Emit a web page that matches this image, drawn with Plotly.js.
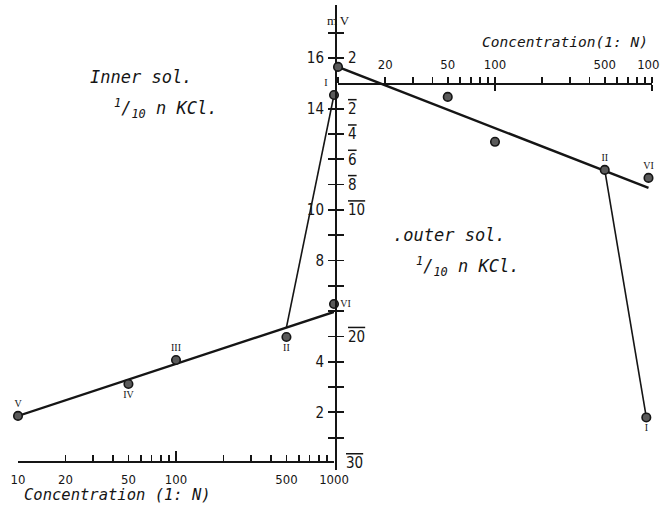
<!DOCTYPE html>
<html>
<head>
<meta charset="utf-8">
<script src="https://cdn.plot.ly/plotly-3.0.1.min.js"></script>
<style>
  html, body { margin: 0; padding: 0; background: #fff; }
  #chart { width: 660px; height: 513px; }
</style>
</head>
<body>
<div id="chart"></div>
<script>
// Inner solution varied (outer fixed at 1/10 n KCl) - lower left, left mV scale
const concInner = [10, 50, 100, 500, 1000, 1000];
const mvInner = [1.86, 3.12, 4.07, 4.98, 6.28, 14.54];
const labInner = ['V', 'IV', 'III', 'II', 'VI', 'I'];
const fitInnerX = [10, 1000];
const fitInnerY = [1.86, 5.97];
const jumpInnerX = [500, 1000];
const jumpInnerY = [5.36, 14.54];

// Outer solution varied (inner fixed at 1/10 n KCl) - upper right, right mV scale
const concOuter = [10, 50, 100, 500, 950, 920];
const mvOuter = [1.3, -1.07, -4.62, -6.84, -7.47, -26.4];
const labOuter = ['', '', '', 'II', 'VI', 'I'];
const fitOuterX = [10, 950];
const fitOuterY = [1.3, -8.26];
const jumpOuterX = [500, 920];
const jumpOuterY = [-6.84, -26.4];

// Axis tick marks and labels
const concTicks = [10, 20, 30, 40, 50, 60, 70, 80, 90, 100, 200, 300, 400, 500, 600, 700, 800, 900, 1000];
const bottomLabelled = [10, 20, 50, 100, 500, 1000];
const topLabelled = [20, 50, 100, 500, 1000];
const leftTicks = [1, 2, 3, 4, 5, 6, 7, 8, 9, 10, 11, 12, 13, 14, 16, 17];
const leftLabelled = [2, 4, 8, 10, 14, 16];
const rightTicks = [4, 2, -2, -4, -6, -8, -10, -12, -14, -16, -18, -20, -22, -24, -26, -28];
const bar = s => '<span style="text-decoration:overline">' + s + '</span>';
const rightText = {2: '2', '-2': bar('2'), '-4': bar('4'), '-6': bar('6'), '-8': bar('8'),
                   '-10': bar('10'), '-20': bar('20')};

const W = 660, H = 513;
const px = x => x / W;
const py = y => (H - y) / H;

const ink = '#151515';
const numFont = {family: '"Liberation Sans Narrow", "DejaVu Sans Condensed", "Liberation Sans", sans-serif', size: 15, color: ink};
const smallNum = {family: '"Liberation Sans Narrow", "DejaVu Sans Condensed", "Liberation Sans", sans-serif', size: 13, color: ink};
const romanFont = {family: '"Liberation Serif", "DejaVu Serif", serif', size: 10, color: ink};
const letterFont = size => ({family: '"DejaVu Sans Mono", "Liberation Mono", monospace', size: size, color: ink});

const markerStyle = {symbol: 'circle', size: 8.5, color: '#5a5a5a', line: {color: ink, width: 1.6}};

const traces = [
  {x: fitInnerX, y: fitInnerY, xaxis: 'x', yaxis: 'y', mode: 'lines',
   line: {color: ink, width: 2.4}, cliponaxis: false, hoverinfo: 'skip'},
  {x: jumpInnerX, y: jumpInnerY, xaxis: 'x', yaxis: 'y', mode: 'lines',
   line: {color: ink, width: 1.6}, cliponaxis: false, hoverinfo: 'skip'},
  {x: concInner, y: mvInner, xaxis: 'x', yaxis: 'y', mode: 'markers+text',
   marker: markerStyle, text: labInner,
   textposition: ['top center', 'bottom center', 'top center', 'bottom center', 'middle right', 'top left'],
   textfont: romanFont, cliponaxis: false},
  {x: fitOuterX, y: fitOuterY, xaxis: 'x2', yaxis: 'y2', mode: 'lines',
   line: {color: ink, width: 2.4}, cliponaxis: false, hoverinfo: 'skip'},
  {x: jumpOuterX, y: jumpOuterY, xaxis: 'x2', yaxis: 'y2', mode: 'lines',
   line: {color: ink, width: 1.6}, cliponaxis: false, hoverinfo: 'skip'},
  {x: concOuter, y: mvOuter, xaxis: 'x2', yaxis: 'y2', mode: 'markers+text',
   marker: markerStyle, text: labOuter,
   textposition: ['top center', 'top center', 'top center', 'top center', 'top center', 'bottom center'],
   textfont: romanFont, cliponaxis: false},
  // empty traces so the decade-tick overlay axes are laid out
  {x: [], y: [], xaxis: 'x3', yaxis: 'y', mode: 'markers', hoverinfo: 'skip'},
  {x: [], y: [], xaxis: 'x4', yaxis: 'y2', mode: 'markers', hoverinfo: 'skip'}
];

// vertical scale: left v (mV), right r = 2v - 30
const yDomain = [py(470), py(5)];
const vPerPx = 1 / 25.31;
const vRange = [(463 - 470) * vPerPx, (463 - 5) * vPerPx];
const rRange = vRange.map(v => 2 * v - 30);

const baseAxis = {
  showgrid: false, zeroline: false, showline: true, linecolor: ink, linewidth: 2,
  tickcolor: ink, tickwidth: 1.8, fixedrange: true, ticklabeloverflow: 'allow'
};

function note(x, y, text, font, extra) {
  return Object.assign({xref: 'paper', yref: 'paper', x: px(x), y: py(y), text: text,
    showarrow: false, xanchor: 'left', yanchor: 'middle', font: font}, extra || {});
}

const layout = {
  width: W, height: H,
  margin: {l: 0, r: 0, t: 0, b: 0},
  paper_bgcolor: '#ffffff', plot_bgcolor: 'rgba(0,0,0,0)',
  showlegend: false,
  xaxis: Object.assign({}, baseAxis, {
    type: 'log', range: [1, 3], domain: [px(18), px(334)],
    anchor: 'free', position: py(462), side: 'bottom',
    ticks: 'inside', ticklen: 6, tickvals: concTicks,
    ticktext: concTicks.map(t => bottomLabelled.includes(t) ? String(t) : ''),
    tickfont: smallNum, ticklabelstandoff: 5
  }),
  xaxis3: Object.assign({}, baseAxis, {
    type: 'log', range: [1, 3], domain: [px(18), px(334)], overlaying: 'x',
    anchor: 'free', position: py(462), side: 'bottom', showline: false,
    ticks: 'inside', ticklen: 11, tickvals: [10, 100], showticklabels: false
  }),
  xaxis2: Object.assign({}, baseAxis, {
    type: 'log', range: [1, 3], domain: [px(338), px(652)],
    anchor: 'free', position: py(83.5), side: 'top',
    ticks: 'outside', ticklen: 6, tickvals: concTicks,
    ticktext: concTicks.map(t => topLabelled.includes(t) ? String(t) : ''),
    tickfont: smallNum, ticklabelstandoff: 2
  }),
  xaxis4: Object.assign({}, baseAxis, {
    type: 'log', range: [1, 3], domain: [px(338), px(652)], overlaying: 'x2',
    anchor: 'free', position: py(83.5), side: 'bottom', showline: false,
    ticks: 'outside', ticklen: 6, tickvals: [100, 1000], showticklabels: false
  }),
  yaxis: Object.assign({}, baseAxis, {
    range: vRange, domain: yDomain, anchor: 'free', position: px(336), side: 'left',
    ticks: 'outside', ticklen: 7, tickvals: leftTicks,
    ticktext: leftTicks.map(t => leftLabelled.includes(t) ? String(t) : ''),
    tickfont: numFont, ticklabelstandoff: 1
  }),
  yaxis2: Object.assign({}, baseAxis, {
    range: rRange, domain: yDomain, overlaying: 'y', anchor: 'free', position: px(336), side: 'right',
    showline: false, ticks: 'outside', ticklen: 7, tickvals: rightTicks,
    ticktext: rightTicks.map(t => rightText[t] || ''),
    tickfont: numFont, ticklabelstandoff: 1
  }),
  annotations: [
    note(338, 20, 'm\u2009V', {family: '"Liberation Serif", serif', size: 13, color: ink}, {xanchor: 'center'}),
    {xref: 'paper', yref: 'y2', x: px(344), y: -30, text: bar('30'), showarrow: false,
     xanchor: 'left', yanchor: 'middle', font: numFont},
    note(22, 495, '<i>Concentration (1: N)</i>', letterFont(15.5)),
    note(480, 42, '<i>Concentration(1: N)</i>', letterFont(14.5)),
    note(88, 77, '<i>Inner sol.</i>', letterFont(17)),
    note(112, 108, '<i><sup>1</sup>/<sub>10</sub> n KCl.</i>', letterFont(17)),
    note(391, 235, '<i>.outer sol.</i>', letterFont(17)),
    note(414, 266, '<i><sup>1</sup>/<sub>10</sub> n KCl.</i>', letterFont(17))
  ]
};

Plotly.newPlot('chart', traces, layout, {staticPlot: true, displayModeBar: false});
</script>
</body>
</html>
